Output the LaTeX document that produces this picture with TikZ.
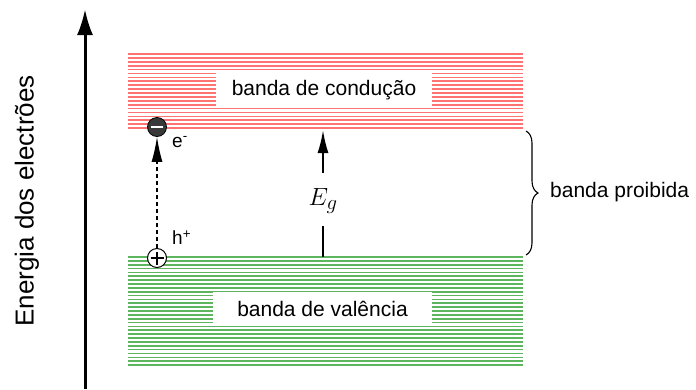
\documentclass[tikz,border=0pt]{standalone}
\usepackage{fontspec}
\setmainfont{Liberation Sans}
\usetikzlibrary{arrows.meta,decorations.pathreplacing}
\definecolor{condred}{HTML}{FF7373}
\definecolor{valgreen}{HTML}{5DB55D}
\tikzset{
  bandline/.style={line width=1.7pt},
  bandlabel/.style={fill=white, inner sep=0pt, font=\fontsize{21}{25}\selectfont},
  sidelabel/.style={inner sep=0pt, font=\fontsize{21}{25}\selectfont},
  chargelabel/.style={inner sep=0pt, font=\fontsize{19}{22}\selectfont},
}
\begin{document}
\begin{tikzpicture}[x=1pt,y=-1pt]
\useasboundingbox (0,0) rectangle (696,389);

% conduction band (red hatching)
\foreach \k in {0,...,19}
  \draw[bandline, condred] (128,54+\k*3.9) -- (523,54+\k*3.9);
% valence band (green hatching)
\foreach \k in {0,...,28}
  \draw[bandline, valgreen] (128,257+\k*3.86) -- (523,257+\k*3.86);

\node[bandlabel, minimum width=216, minimum height=36] (cond) at (324,90) {banda de condução};
\node[bandlabel, minimum width=219, minimum height=34] (val) at (322.5,309) {banda de valência};

\coordinate (cbot) at (323,130);
\coordinate (vtop) at (323,257);

% energy axis
\coordinate (axbot) at (85,389);
\coordinate (axtop) at (85,9);
\draw[line width=3pt, -{Latex[length=26pt,width=16pt]}] (axbot) -- (axtop);
\node[rotate=90, inner sep=0pt, font=\fontsize{26}{30}\selectfont] (energy) at (27,201) {Energia dos electrões};

% band gap arrow
\node[inner sep=0pt, font=\fontsize{31}{34}\selectfont] (Eg) at (323,201) {$E_g$};
\coordinate (gtop) at (323,173);
\coordinate (gbot) at (323,226);
\draw[line width=2pt, -{Latex[length=23pt,width=11pt]}] (gtop) -- (cbot);
\draw[line width=2pt] (vtop) -- (gbot);

% electron and hole
\node[circle, draw=black, fill=black!78, minimum size=19, inner sep=0pt, line width=0.8pt] (el) at (157,127) {};
\draw[white, line width=2.4pt] ([xshift=-6]el.center) -- ([xshift=6]el.center);
\node[circle, draw=black, fill=white, minimum size=19, inner sep=0pt, line width=1pt] (ho) at (157,258) {};
\draw[black, line width=1.3pt] ([xshift=-6.5]ho.center) -- ([xshift=6.5]ho.center)
  ([yshift=-6.5]ho.center) -- ([yshift=6.5]ho.center);
\draw[dashed, dash pattern=on 4pt off 3pt, line width=1.2pt, -{Latex[length=25pt,width=11pt]}] (ho.north) -- (el.south);
\node[chargelabel, anchor=west] (elab) at (172,142) {e\textsuperscript{-}};
\node[chargelabel, anchor=west] (hlab) at (172,238) {h\textsuperscript{+}};

% forbidden band brace
\coordinate (brtop) at (526,131);
\coordinate (brbot) at (526,255);
\draw[line width=1.1pt, decorate, decoration={brace, amplitude=12pt}] (brtop) -- (brbot);
\node[sidelabel, anchor=west] (gap) at (550,192) {banda proibida};
\end{tikzpicture}
\end{document}
